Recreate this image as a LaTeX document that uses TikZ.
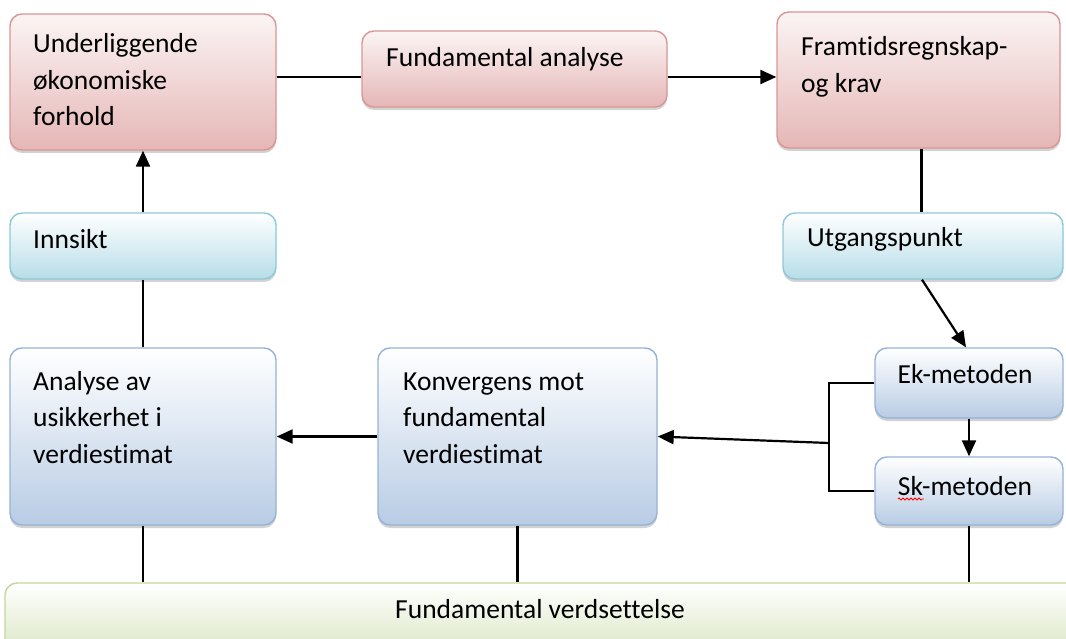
\documentclass[tikz,border=0pt]{standalone}
\usepackage{fontspec}
\setmainfont{Carlito}[Ligatures=NoCommon]
\usetikzlibrary{arrows.meta,shadows,decorations.pathmorphing}

\definecolor{redfill}{RGB}{229,183,182}
\definecolor{redline}{RGB}{217,150,148}
\definecolor{cyanfill}{RGB}{183,221,232}
\definecolor{cyanline}{RGB}{140,200,218}
\definecolor{bluefill}{RGB}{184,204,228}
\definecolor{blueline}{RGB}{149,179,215}
\definecolor{greenfill}{RGB}{214,227,188}
\definecolor{greenline}{RGB}{195,214,155}

\tikzset{
  box/.style={rounded corners=12pt, line width=1.4pt, inner sep=0pt,
    drop shadow={shadow xshift=0pt, shadow yshift=-3pt, opacity=0.25, fill=black!70}},
  redbox/.style={box, draw=redline, top color=redfill!15!white, bottom color=redfill},
  cyanbox/.style={box, draw=cyanline, top color=white, bottom color=cyanfill},
  bluebox/.style={box, draw=blueline, top color=white, bottom color=bluefill},
  greenbox/.style={box, draw=greenline, top color=white, bottom color=greenfill},
  % multi-line labels are placed by the baseline of their last line
  lbl/.style={inner sep=0pt, align=left, anchor=base west,
    font=\fontsize{27.5pt}{36.5pt}\selectfont},
  clbl/.style={lbl, anchor=base},
  link/.style={line width=2.2pt, black},
  arr/.style={link, -{Triangle[length=16pt,width=14pt]}},
}

\begin{document}
\begin{tikzpicture}[x=1pt,y=-1pt]
  \clip (0,0) rectangle (1066,639);
  \fill[white] (0,0) rectangle (1066,639);

  % boxes
  \node[redbox, minimum width=266pt, minimum height=136pt] (und) at (143,82) {};
  \node[redbox, minimum width=305pt, minimum height=76pt] (fa) at (514.5,69) {};
  \node[redbox, minimum width=283pt, minimum height=136pt] (fr) at (918.5,80) {};
  \node[cyanbox, minimum width=266pt, minimum height=66pt] (inn) at (143,246) {};
  \node[cyanbox, minimum width=280pt, minimum height=66pt] (utg) at (923,246) {};
  \node[bluebox, minimum width=266pt, minimum height=177pt] (ana) at (143,436.5) {};
  \node[bluebox, minimum width=279pt, minimum height=177pt] (kon) at (517.5,436.5) {};
  \node[bluebox, minimum width=188pt, minimum height=70pt] (ek) at (969,383) {};
  \node[bluebox, minimum width=188pt, minimum height=68pt] (sk) at (969,491) {};
  \node[greenbox, minimum width=1100pt, minimum height=80pt] (fv) at (555,623) {};

  % labels
  \node[lbl] (undt) at (33,126) {Underliggende\\økonomiske\\forhold};
  \node[lbl] (fat) at (386,67) {Fundamental analyse};
  \node[lbl] (frt) at (801,92.5) {Framtidsregnskap-\\og krav};
  \node[lbl] (innt) at (33,249) {Innsikt};
  \node[lbl] (utgt) at (807,247) {Utgangspunkt};
  \node[lbl] (anat) at (33,463) {Analyse av\\usikkerhet i\\verdiestimat};
  \node[lbl] (kont) at (403,463) {Konvergens mot\\fundamental\\verdiestimat};
  \node[clbl] (ekt) at (965,383) {Ek-metoden};
  \node[clbl] (skt) at (965,495) {Sk-metoden};
  \node[clbl] (fvt) at (540,618) {Fundamental verdsettelse};
  \draw[red, line width=0.8pt, decorate,
        decoration={snake, segment length=4pt, amplitude=1pt}]
    ([yshift=-4pt]skt.base west) -- ++(26,0);

  % connectors
  \coordinate (faL) at ([yshift=-8pt]fa.west);
  \coordinate (faR) at ([yshift=-8pt]fa.east);
  \draw[link] (faL -| und.east) -- (faL);
  \draw[arr] (faR) -- (faR -| fr.west);
  \draw[link] ([xshift=3pt]fr.south) -- ([xshift=3pt]fr.south |- utg.north);
  \draw[arr] ([xshift=-1pt]utg.south) -- ([xshift=-3pt]ek.north);
  \draw[arr] (ek.south) -- (sk.north);
  \coordinate (j) at (829,443);
  \draw[link] (ek.west) -- (ek.west -| j) -- (sk.west -| j) -- (sk.west);
  \draw[arr] (j) -- (kon.east);
  \draw[arr] (kon.west) -- (ana.east);
  \draw[link] (ana.north) -- (inn.south);
  \draw[arr] (inn.north) -- (und.south);
  \draw[link] (ana.south) -- (ana.south |- fv.north);
  \draw[link] (kon.south) -- (kon.south |- fv.north);
  \draw[link] (sk.south) -- (sk.south |- fv.north);
\end{tikzpicture}
\end{document}
